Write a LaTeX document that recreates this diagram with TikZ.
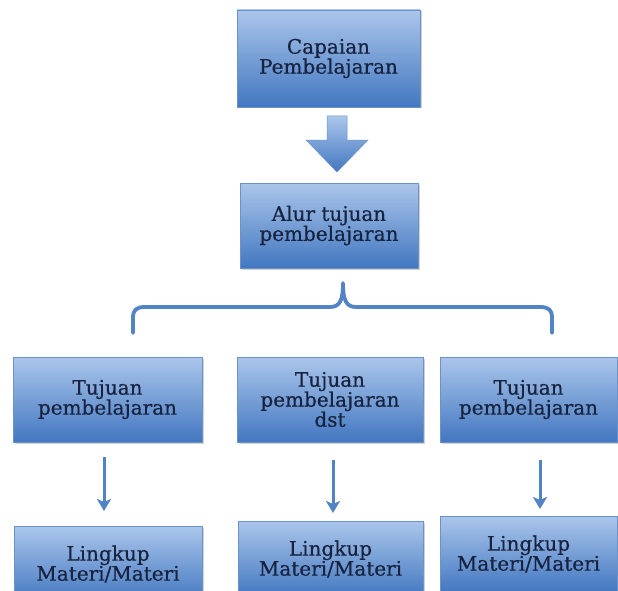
\documentclass[tikz,border=0pt]{standalone}
\usepackage{fontspec}
\setmainfont{DejaVu Serif}
\newfontfamily\boxfont[FakeBold=0.6]{DejaVu Serif}
\usetikzlibrary{shadows,arrows.meta,calc}
\definecolor{boxtop}{HTML}{ABC6EB}
\definecolor{boxbot}{HTML}{4277C0}
\definecolor{boxline}{HTML}{6C93C9}
\definecolor{txt}{HTML}{17233F}
\definecolor{arr}{HTML}{5283C4}
\tikzset{
 box/.style={rectangle, inner sep=0pt, align=center, top color=boxtop, bottom color=boxbot,
   draw=boxline, line width=0.6pt, text=txt, font=\boxfont\fontsize{20}{20}\selectfont,
   drop shadow={opacity=0.35, shadow xshift=1.5pt, shadow yshift=-1.5pt}},
 conn/.style={draw=arr, line width=3pt, -{Stealth[length=12pt,width=14pt,inset=3pt]}},
 brace/.style={draw=arr, line width=3.8pt, line cap=round, line join=round},
 bigarrow/.style={top color=boxtop, bottom color=boxbot, draw=boxline, line width=0.5pt},
}
\begin{document}
\begin{tikzpicture}[x=1pt,y=-1pt]
\path[use as bounding box, clip] (0,0) rectangle (618,591);
\fill[white] (0,0) rectangle (618,591);
% top boxes
\node[box, minimum width=183pt, minimum height=97pt] (cp) at (328.5,58.5) {Capaian\\Pembelajaran};
\node[box, minimum width=178pt, minimum height=85pt] (alur) at (329,225.5) {Alur tujuan\\pembelajaran};
% big arrow
\shade[bigarrow] (327,116) -- (347,116) -- (347,140) -- (368,140) -- (337,172) -- (306,140) -- (327,140) -- cycle;
% brace
\draw[brace] (133,333) -- (133,318) .. controls (133,310) and (136,307) .. (145,307) -- (330,307)
  .. controls (340,307) and (343,300) .. (343,283)
  .. controls (343,300) and (346,307) .. (356,307) -- (540,307)
  .. controls (549,307) and (552,310) .. (552,318) -- (552,333);
% middle row
\node[box, minimum width=189pt, minimum height=85pt] (tp1) at (107.5,399.5) {Tujuan\\pembelajaran};
\node[box, minimum width=186pt, minimum height=85pt] (tp2) at (330,399.5) {Tujuan\\pembelajaran\\dst};
\node[box, minimum width=177pt, minimum height=85pt] (tp3) at (528.5,399.5) {Tujuan\\pembelajaran};
% bottom row
\node[box, minimum width=188pt, minimum height=76pt] (lm1) at (108,564) {Lingkup\\Materi/Materi};
\node[box, minimum width=185pt, minimum height=76pt] (lm2) at (330.5,559) {Lingkup\\Materi/Materi};
\node[box, minimum width=177pt, minimum height=76pt] (lm3) at (528.5,554) {Lingkup\\Materi/Materi};
% arrows
\coordinate (s1) at (104,457); \coordinate (e1) at (104,511);
\coordinate (s2) at (333,460); \coordinate (e2) at (333,513);
\coordinate (s3) at (540,460); \coordinate (e3) at (540,509);
\draw[conn] (s1) -- (e1);
\draw[conn] (s2) -- (e2);
\draw[conn] (s3) -- (e3);
\end{tikzpicture}
\end{document}
